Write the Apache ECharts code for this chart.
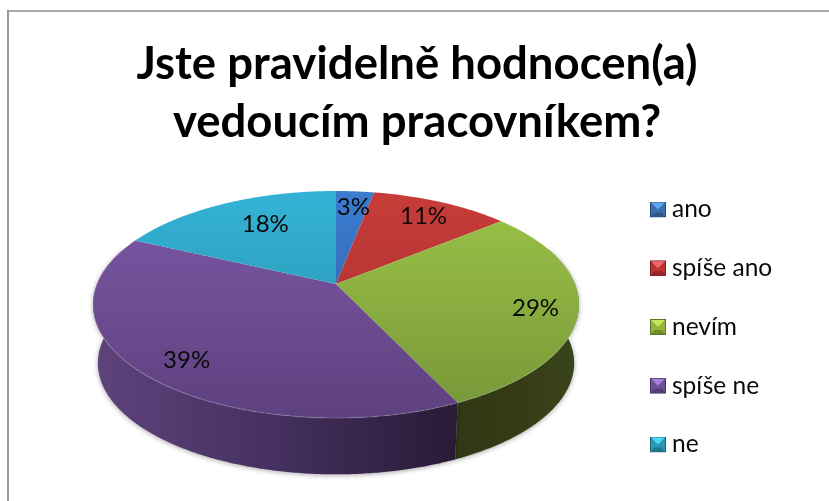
<!DOCTYPE html>
<html>
<head>
<meta charset="utf-8">
<style>html,body{margin:0;padding:0;background:#fff}#c{width:829px;height:501px}</style>
<script src="https://cdn.jsdelivr.net/npm/echarts@6/dist/echarts.min.js"></script>
</head>
<body>
<div id="c"></div>
<script>
const categories = ['ano', 'spíše ano', 'nevím', 'spíše ne', 'ne'];
const values = [3, 11, 29, 39, 18];
const titleLines = ['Jste pravidelně hodnocen(a)', 'vedoucím pracovníkem?'];

// face gradient (top, bottom), wall gradient (left, middle, right), legend key (light, mid, dark)
const faceColors = [['#3b7cd0','#2c5e9c'],['#c73c39','#a12f2d'],['#9cc448','#769638'],['#7d59a6','#5e4180'],['#34b3d6','#278ba6']];
const wallColors = [['#2c4f80','#223e66','#1a3050'],['#7d2523','#651d1c','#4f1716'],['#303814','#343c15','#3a4419'],['#5f437b','#453060','#291a36'],['#1f6a80','#185666','#124350']];
const keyColors = [['#5fa6ee','#3a6fb0','#24466f'],['#ee6a66','#bb3532','#7a201f'],['#c4e45c','#93b23e','#5f7426'],['#a67fd6','#6f4f96','#46305f'],['#52d4f2','#2c98b4','#1a6274']];

// perspective disc: maps unit circle points to the picture plane
const pers = { cx: 336, apexY: 284, a: 239, b: 109.8, k: 0.1806 };
const floor = { scale: 0.98, apexY: 343 };
const wallFrom = 70, wallTo = 290;
// label spot on the disc: radius and angular nudge per slice
const labelSpot = [[0.81, 0.5], [0.81, 0], [0.83, 2], [0.83, -3], [0.69, 4]];

const total = values.reduce((s, v) => s + v, 0);
function project(deg, r, base) {
  const t = deg * Math.PI / 180;
  const u = r * Math.sin(t), v = -r * Math.cos(t);
  const d = 1 - pers.k * v;
  const s = base ? floor.scale : 1;
  return [pers.cx + s * pers.a * u / d, (base ? floor.apexY : pers.apexY) + s * pers.b * v / d];
}
function rim(a0, a1, base) {
  const pts = [];
  const n = Math.max(2, Math.ceil(Math.abs(a1 - a0) * 2));
  for (let i = 0; i <= n; i++) pts.push(project(a0 + (a1 - a0) * i / n, 1, base));
  return pts;
}
function grad(x, y, x2, y2, cols) {
  return { type: 'linear', x, y, x2, y2, global: true,
    colorStops: cols.map((c, i) => ({ offset: cols.length > 1 ? i / (cols.length - 1) : 0, color: c })) };
}
function keyIcon(c) {
  const svg = "<svg xmlns='http://www.w3.org/2000/svg' width='16' height='16'>" +
    "<rect width='16' height='16' fill='" + c[2] + "'/>" +
    "<rect x='1' y='1' width='14' height='14' fill='" + c[1] + "'/>" +
    "<path d='M1 1H15L8 8Z' fill='" + c[0] + "'/>" +
    "<path d='M1 15H15L12 11H4Z' fill='" + c[2] + "' opacity='.6'/></svg>";
  return 'image://data:image/svg+xml;charset=utf-8,' + encodeURIComponent(svg);
}

function sliceStart(i) {
  let s = 0;
  for (let j = 0; j < i; j++) s += values[j];
  return s / total * 360;
}

const series = categories.map((name, i) => ({
  type: 'custom',
  name,
  coordinateSystem: 'none',
  silent: true,
  itemStyle: { color: faceColors[i][0] },
  data: [values[i]],
  renderItem(params, api) {
    const a0 = sliceStart(i), a1 = a0 + api.value(0) / total * 360;
    const mid = (a0 + a1) / 2;
    const children = [];
    const w0 = Math.max(a0, wallFrom), w1 = Math.min(a1, wallTo);
    if (w1 > w0) {
      const ring = rim(w0, w1, false).concat(rim(w0, w1, true).reverse());
      const xs = ring.map(p => p[0]);
      children.push({
        type: 'polygon', shape: { points: ring },
        style: { fill: grad(Math.min(...xs), 0, Math.max(...xs), 0, wallColors[i]),
          shadowBlur: 5, shadowColor: 'rgba(0,0,0,0.35)', shadowOffsetY: 1 }
      });
    }
    const face = [[pers.cx, pers.apexY]].concat(rim(a0, a1, false));
    children.push({
      type: 'polygon', shape: { points: face },
      style: { fill: grad(0, 191, 0, 418, faceColors[i]) }
    });
    const e0 = Math.max(a0, wallFrom), e1 = Math.min(a1, wallTo);
    if (e1 > e0) {
      children.push({
        type: 'polyline', shape: { points: rim(e0, e1, false) },
        style: { fill: 'none', stroke: 'rgba(255,255,255,0.13)', lineWidth: 1.4 }
      });
    }
    const spot = labelSpot[i];
    const lp = project(mid + spot[1], spot[0], false);
    children.push({
      type: 'text', z2: 10,
      style: { x: lp[0], y: lp[1], text: Math.round(api.value(0)) + '%', fill: '#0a0a0a',
        font: '24px Lato, Carlito, sans-serif', align: 'center', verticalAlign: 'middle' }
    });
    return { type: 'group', children };
  }
}));

const chart = echarts.init(document.getElementById('c'), null, { renderer: 'canvas' });
chart.setOption({
  animation: false,
  backgroundColor: '#ffffff',
  title: {
    text: titleLines.join('\n'), left: 412, top: 30.5,
    textAlign: 'center', itemGap: 0,
    textStyle: { fontFamily: 'Lato, Carlito, sans-serif', fontWeight: 'bold', fontSize: 45.5, lineHeight: 58, color: '#000' }
  },
  legend: {
    orient: 'vertical', left: 650, top: 194.5, padding: 0, itemWidth: 16, itemHeight: 16,
    itemGap: 28.75, selectedMode: false,
    data: categories.map((name, i) => ({ name, icon: keyIcon(keyColors[i]) })),
    textStyle: { fontFamily: 'Lato, Carlito, sans-serif', fontSize: 24.5, color: '#0a0a0a', lineHeight: 30, padding: [0, 0, 0, 1] },
    itemStyle: { borderWidth: 0 }
  },
  graphic: [
    { type: 'line', silent: true, shape: { x1: 8, y1: 11, x2: 829, y2: 11 }, style: { stroke: '#ababab', lineWidth: 2 } },
    { type: 'line', silent: true, shape: { x1: 8, y1: 10, x2: 8, y2: 501 }, style: { stroke: '#999999', lineWidth: 2 } }
  ],
  series
});
</script>
</body>
</html>
